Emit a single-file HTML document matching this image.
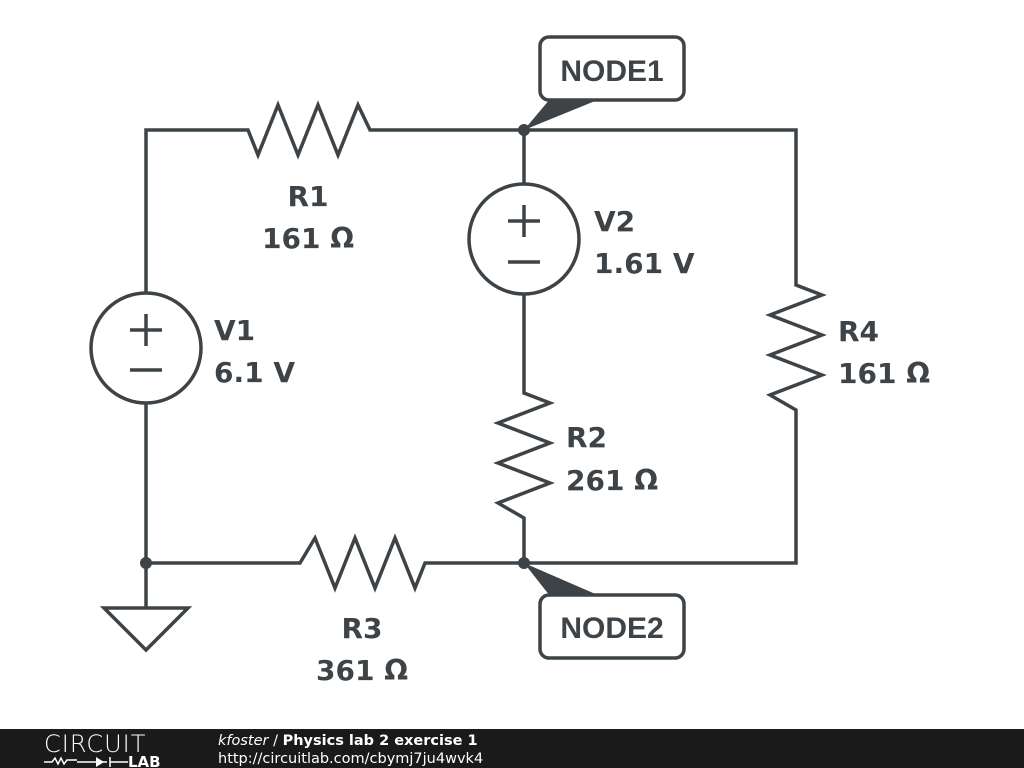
<!DOCTYPE html>
<html><head><style>
body{margin:0;width:1024px;height:768px;background:#fff;overflow:hidden;font-family:"DejaVu Sans","Liberation Sans",sans-serif}
</style></head><body>
<svg width="1024" height="768" style="position:absolute;left:0;top:0">
<g fill="none" stroke="#3d4347" stroke-width="3.5" stroke-linejoin="miter">
<polyline points="146,293 146,130 248,130 258,155 278,105 298,155 318,105 338,155 358,105 370,130 796,130 796,285 822,295 770,315 822,335 770,355 822,375 770,395 796,410 796,563 425,563 415,588 395,538 375,588 355,538 335,588 315,538 300,563 146,563 146,403"/>
<polyline points="524,130 524,184"/>
<polyline points="524,294 524,393 550,403 498,423 550,443 498,463 550,483 498,503 524,518 524,563"/>
<circle cx="146" cy="348" r="55"/>
<circle cx="524" cy="239" r="55"/>
<polyline points="146,563 146,608"/>
<polygon points="104,608 188,608 146,650"/>
<line x1="130" y1="330" x2="162" y2="330"/><line x1="146" y1="314" x2="146" y2="346"/>
<line x1="130" y1="370" x2="162" y2="370"/>
<line x1="508" y1="221" x2="540" y2="221"/><line x1="524" y1="205" x2="524" y2="237"/>
<line x1="508" y1="262" x2="540" y2="262"/>
<rect x="540" y="37" width="144" height="63" rx="9" fill="#fff"/>
<rect x="540" y="595" width="144" height="63" rx="9" fill="#fff"/>
</g>
<g fill="#3d4347">
<circle cx="524" cy="130" r="6"/><circle cx="524" cy="563" r="6"/><circle cx="146" cy="563" r="6"/>
<polygon points="524,130 550,99 600,99"/>
<polygon points="524,563 550,596 600,596"/>
</g>
<g fill="#3d4347" font-family="'DejaVu Sans',sans-serif" font-weight="bold" font-size="28">
<text x="612" y="81" text-anchor="middle" font-family="'Liberation Sans',sans-serif" font-size="30">NODE1</text>
<text x="612" y="638" text-anchor="middle" font-family="'Liberation Sans',sans-serif" font-size="30">NODE2</text>
<text x="308" y="206" text-anchor="middle">R1</text><text x="308" y="248" text-anchor="middle">161 Ω</text>
<text x="214" y="340">V1</text><text x="214" y="382">6.1 V</text>
<text x="594" y="231">V2</text><text x="594" y="273">1.61 V</text>
<text x="838" y="341">R4</text><text x="838" y="383">161 Ω</text>
<text x="566" y="447">R2</text><text x="566" y="490">261 Ω</text>
<text x="362" y="638" text-anchor="middle">R3</text><text x="362" y="680" text-anchor="middle">361 Ω</text>
</g>
<rect x="0" y="729" width="1024" height="39" fill="#1a1a1a"/>
<text x="44" y="752" fill="#fff" font-size="24" font-family="'DejaVu Sans',sans-serif" font-weight="200" letter-spacing="1">CIRCUIT</text>
<path d="M44,762 h8 l3,-4 l3,6 l3,-6 l3,6 l3,-4 h10 M77,762 h30 M110,757 v10 M110,762 h18" stroke="#fff" stroke-width="1.5" fill="none"/>
<polygon points="96,757 96,767 104,762" fill="#fff"/>
<text x="128" y="767" fill="#fff" font-size="15" font-weight="bold">LAB</text>
<text x="218" y="745" fill="#fff" font-size="14.5"><tspan font-style="italic">kfoster</tspan> / <tspan font-weight="bold">Physics lab 2 exercise 1</tspan></text>
<text x="218" y="763" fill="#fff" font-size="14.5">http://circuitlab.com/cbymj7ju4wvk4</text>
</svg>
</body></html>
